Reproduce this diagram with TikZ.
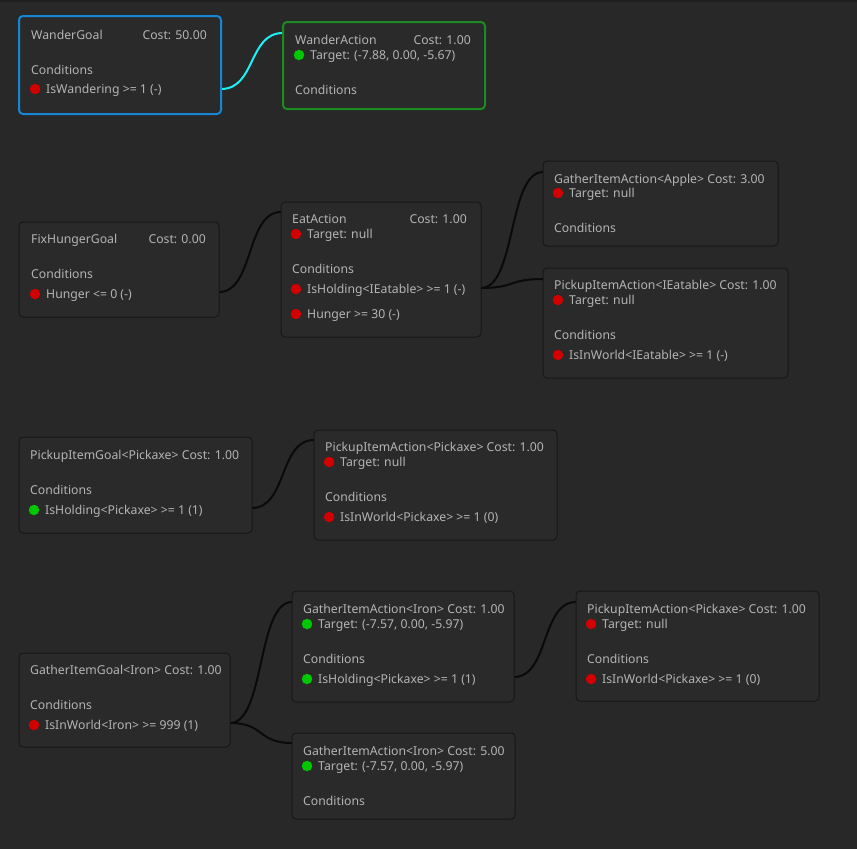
\documentclass[tikz,border=0pt]{standalone}
\usepackage{fontspec}
\setmainfont{Noto Sans}
\usetikzlibrary{calc}

\definecolor{canvas}{HTML}{282828}
\definecolor{topstrip}{HTML}{1F1F1F}
\definecolor{panel}{HTML}{2A2A2A}
\definecolor{rim}{HTML}{171717}
\definecolor{ink}{HTML}{B4B4B4}
\definecolor{goalblue}{HTML}{1786D4}
\definecolor{actgreen}{HTML}{1F8A22}
\definecolor{wire}{HTML}{0A0A0A}
\definecolor{wirecyan}{HTML}{1CF0F4}
\definecolor{bad}{HTML}{D20000}
\definecolor{good}{HTML}{00C800}

\tikzset{
  card/.style={draw=rim, fill=panel, line width=1pt, rounded corners=4pt,
    anchor=north west, inner sep=0pt, outer sep=0pt},
  label/.style={anchor=base west, inner sep=0pt, text=ink,
    font=\fontsize{12.25}{14}\selectfont},
  cost/.style={label, anchor=base east},
  dot/.style={circle, inner sep=0pt, minimum size=10.5pt},
  edge/.style={draw=wire, line width=2pt},
}

% box: name, left, top, right, bottom, extra options
\newcommand\gcard[6]{\node[card,#6,minimum width={#4-#2},minimum height={#5-#3}] (#1) at (#2,#3) {};}
% text line with its vertical centre at the given y
\newcommand\gtext[4]{\node[label] (#1) at (#2,{#3+4.8}) {#4};}
\newcommand\gcost[4]{\node[cost] (#1) at (#2,{#3+4.8}) {#4};}
\newcommand\gdot[4]{\node[dot,fill=#4] (#1) at (#2,#3) {};}

\begin{document}
\begin{tikzpicture}[x=1pt,y=-1pt]
  \fill[canvas] (0,0) rectangle (857,849);
  \fill[topstrip] (0,0) rectangle (857,2);
  \useasboundingbox (0,0) rectangle (857,849);

  % ports
  \coordinate (wg-out) at (221,89);   \coordinate (wa-in) at (283,33);
  \coordinate (fh-out) at (219,292);  \coordinate (ea-in) at (281,212);
  \coordinate (ea-out) at (481,288);
  \coordinate (ga-in) at (543,172);   \coordinate (pe-in) at (543,279);
  \coordinate (pg-out) at (252,508);  \coordinate (pa-in) at (314,440);
  \coordinate (gg-out) at (230,723);
  \coordinate (gi1-in) at (292,602);  \coordinate (gi5-in) at (292,743);
  \coordinate (gi1-out) at (514,677); \coordinate (pb-in) at (576,602);

  % connectors
  \draw[edge, draw=wirecyan] (wg-out) .. controls +(35,0) and +(-35,0) .. (wa-in);
  \draw[edge] (fh-out) .. controls +(35,0) and +(-35,0) .. (ea-in);
  \draw[edge] (ea-out) .. controls +(35,0) and +(-35,0) .. (ga-in);
  \draw[edge] (ea-out) .. controls +(35,0) and +(-35,0) .. (pe-in);
  \draw[edge] (pg-out) .. controls +(35,0) and +(-35,0) .. (pa-in);
  \draw[edge] (gg-out) .. controls +(35,0) and +(-35,0) .. (gi1-in);
  \draw[edge] (gg-out) .. controls +(35,0) and +(-35,0) .. (gi5-in);
  \draw[edge] (gi1-out) .. controls +(35,0) and +(-35,0) .. (pb-in);

  % WanderGoal
  \gcard{wg}{19}{16}{221}{114}{draw=goalblue, line width=2pt}
  \gtext{wg-t}{31}{35}{WanderGoal}
  \gcost{wg-k}{207}{35}{Cost: 50.00}
  \gtext{wg-c}{31}{70}{Conditions}
  \gdot{wg-d1}{35}{89}{bad}
  \gtext{wg-1}{46}{89}{IsWandering >= 1 (-)}

  % WanderAction
  \gcard{wa}{283}{22}{485}{109}{draw=actgreen, line width=2pt}
  \gtext{wa-t}{295}{40}{WanderAction}
  \gcost{wa-k}{471}{40}{Cost: 1.00}
  \gdot{wa-d0}{299}{55}{good}
  \gtext{wa-0}{310}{55}{Target: (-7.88, 0.00, -5.67)}
  \gtext{wa-c}{295}{90}{Conditions}

  % FixHungerGoal
  \gcard{fh}{19}{222}{219}{317}{}
  \gtext{fh-t}{31}{239}{FixHungerGoal}
  \gcost{fh-k}{206}{239}{Cost: 0.00}
  \gtext{fh-c}{31}{274}{Conditions}
  \gdot{fh-d1}{35}{294}{bad}
  \gtext{fh-1}{46}{294}{Hunger <= 0 (-)}

  % EatAction
  \gcard{ea}{281}{202}{481}{337}{}
  \gtext{ea-t}{292}{219}{EatAction}
  \gcost{ea-k}{467}{219}{Cost: 1.00}
  \gdot{ea-d0}{296}{234}{bad}
  \gtext{ea-0}{307}{234}{Target: null}
  \gtext{ea-c}{292}{269}{Conditions}
  \gdot{ea-d1}{296}{289}{bad}
  \gtext{ea-1}{307}{289}{IsHolding<IEatable> >= 1 (-)}
  \gdot{ea-d2}{296}{314}{bad}
  \gtext{ea-2}{307}{314}{Hunger >= 30 (-)}

  % GatherItemAction<Apple>
  \gcard{ga}{543}{161}{778}{246}{}
  \gtext{ga-t}{554}{179}{GatherItemAction<Apple> Cost: 3.00}
  \gdot{ga-d0}{558}{193}{bad}
  \gtext{ga-0}{569}{193}{Target: null}
  \gtext{ga-c}{554}{228}{Conditions}

  % PickupItemAction<IEatable>
  \gcard{pe}{543}{268}{788}{378}{}
  \gtext{pe-t}{554}{285}{PickupItemAction<IEatable> Cost: 1.00}
  \gdot{pe-d0}{558}{300}{bad}
  \gtext{pe-0}{569}{300}{Target: null}
  \gtext{pe-c}{554}{335}{Conditions}
  \gdot{pe-d1}{558}{355}{bad}
  \gtext{pe-1}{569}{355}{IsInWorld<IEatable> >= 1 (-)}

  % PickupItemGoal<Pickaxe>
  \gcard{pg}{19}{437}{252}{533}{}
  \gtext{pg-t}{30}{455}{PickupItemGoal<Pickaxe> Cost: 1.00}
  \gtext{pg-c}{30}{490}{Conditions}
  \gdot{pg-d1}{34}{510}{good}
  \gtext{pg-1}{45}{510}{IsHolding<Pickaxe> >= 1 (1)}

  % PickupItemAction<Pickaxe>
  \gcard{pa}{314}{430}{557}{540}{}
  \gtext{pa-t}{325}{447}{PickupItemAction<Pickaxe> Cost: 1.00}
  \gdot{pa-d0}{329}{462}{bad}
  \gtext{pa-0}{340}{462}{Target: null}
  \gtext{pa-c}{325}{497}{Conditions}
  \gdot{pa-d1}{329}{517}{bad}
  \gtext{pa-1}{340}{517}{IsInWorld<Pickaxe> >= 1 (0)}

  % GatherItemGoal<Iron>
  \gcard{gg}{19}{653}{230}{747}{}
  \gtext{gg-t}{30}{670}{GatherItemGoal<Iron> Cost: 1.00}
  \gtext{gg-c}{30}{705}{Conditions}
  \gdot{gg-d1}{34}{725}{bad}
  \gtext{gg-1}{45}{725}{IsInWorld<Iron> >= 999 (1)}

  % GatherItemAction<Iron>, cost 1
  \gcard{gi1}{292}{591}{514}{702}{}
  \gtext{gi1-t}{303}{609}{GatherItemAction<Iron> Cost: 1.00}
  \gdot{gi1-d0}{307}{624}{good}
  \gtext{gi1-0}{318}{624}{Target: (-7.57, 0.00, -5.97)}
  \gtext{gi1-c}{303}{659}{Conditions}
  \gdot{gi1-d1}{307}{679}{good}
  \gtext{gi1-1}{318}{679}{IsHolding<Pickaxe> >= 1 (1)}

  % GatherItemAction<Iron>, cost 5
  \gcard{gi5}{292}{733}{515}{819}{}
  \gtext{gi5-t}{303}{751}{GatherItemAction<Iron> Cost: 5.00}
  \gdot{gi5-d0}{307}{766}{good}
  \gtext{gi5-0}{318}{766}{Target: (-7.57, 0.00, -5.97)}
  \gtext{gi5-c}{303}{801}{Conditions}

  % PickupItemAction<Pickaxe> after the iron gathering
  \gcard{pb}{576}{591}{819}{701}{}
  \gtext{pb-t}{587}{609}{PickupItemAction<Pickaxe> Cost: 1.00}
  \gdot{pb-d0}{591}{624}{bad}
  \gtext{pb-0}{602}{624}{Target: null}
  \gtext{pb-c}{587}{659}{Conditions}
  \gdot{pb-d1}{591}{679}{bad}
  \gtext{pb-1}{602}{679}{IsInWorld<Pickaxe> >= 1 (0)}
\end{tikzpicture}
\end{document}
